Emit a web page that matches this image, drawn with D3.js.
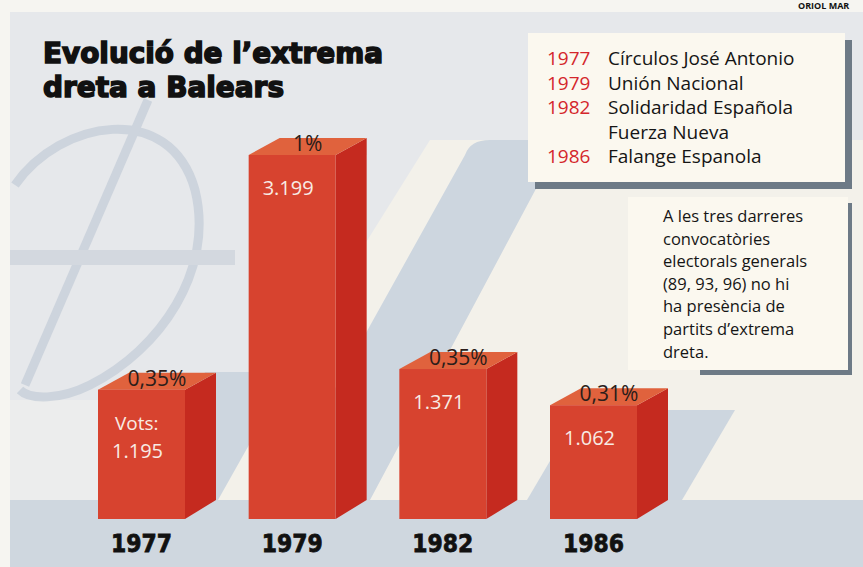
<!DOCTYPE html>
<html>
<head>
<meta charset="utf-8">
<script src="https://cdn.jsdelivr.net/npm/d3@7"></script>
<style>
  html, body { margin: 0; padding: 0; background: #f6f5f1; }
  svg { display: block; }
</style>
</head>
<body>
<svg id="chart"></svg>
<script>
const years = ['1977', '1979', '1982', '1986'];
const votes = [1195, 3199, 1371, 1062];
const shares = [0.35, 1, 0.35, 0.31];
const legendYears = ['1977', '1979', '1982', '1986'];
const parties = [
    ['Círculos José Antonio'],
    ['Unión Nacional'],
    ['Solidaridad Española', 'Fuerza Nueva'],
    ['Falange Espanola']
];
const noteLines = [
    'A les tres darreres',
    'convocatòries',
    'electorals generals',
    '(89, 93, 96) no hi',
    'ha presència de',
    'partits d’extrema',
    'dreta.'
];
const titleLines = ['Evolució de l’extrema', 'dreta a Balears'];

const W = 863, H = 567;
const baseY = 519;
const depthX = 31, depthY = 17;
const heavy = 'DejaVu Sans, sans-serif';

const svg = d3.select('#chart')
    .attr('width', W)
    .attr('height', H);

const loc = d3.formatLocale({ decimal: ',', thousands: '.', grouping: [3], currency: ['', ''] });
const fmtVotes = loc.format(',d');
const fmtShare = loc.format(',~r');

// background, paper look
const bg = svg.append('g');
bg.append('rect').attr('width', W).attr('height', H).attr('fill', '#f6f5f1');
bg.append('rect').attr('x', 10).attr('y', 12).attr('width', W - 10).attr('height', H - 12)
    .attr('fill', '#e6e8eb');
bg.append('polygon')
    .attr('points', '430,140 863,140 863,500 205,500')
    .attr('fill', '#f3f1ea');
bg.append('polygon')
    .attr('points', '10,400 98,400 98,500 10,500')
    .attr('fill', '#eceded');
// slash bands
const bandColor = '#cdd6df';
bg.append('path')
    .attr('d', 'M465,155 Q470,140 490,140 L562,140 L370,500 L273,500 Z')
    .attr('fill', bandColor);
bg.append('polygon')
    .attr('points', '205,372 290,372 218,500 140,500')
    .attr('fill', bandColor);
bg.append('polygon')
    .attr('points', '580,410 735,410 682,500 527,500')
    .attr('fill', bandColor);
bg.append('rect').attr('x', 10).attr('y', 500).attr('width', W - 10).attr('height', H - 500)
    .attr('fill', '#cfd7df');
// faint ring ornament
const orn = bg.append('g').attr('opacity', 0.55);
orn.append('path')
    .attr('d', 'M15,185 C60,120 170,100 195,190 C215,270 160,350 90,385 C60,400 30,400 20,390')
    .attr('fill', 'none').attr('stroke', '#b9c4d2').attr('stroke-width', 9);
orn.append('line')
    .attr('x1', 148).attr('y1', 100).attr('x2', 25).attr('y2', 385)
    .attr('stroke', '#b9c4d2').attr('stroke-width', 9);
bg.append('rect').attr('x', 10).attr('y', 250).attr('width', 225).attr('height', 15)
    .attr('fill', '#d3d8df');

svg.append('text')
    .attr('x', 798).attr('y', 9)
    .attr('font-family', 'Open Sans, sans-serif')
    .attr('font-weight', 700)
    .attr('font-size', 9)
    .attr('fill', '#111')
    .text('ORIOL MAR');

// title
svg.append('g').selectAll('text')
    .data(titleLines)
    .join('text')
    .attr('x', 43)
    .attr('y', (d, i) => 63 + i * 34)
    .attr('font-family', heavy)
    .attr('font-weight', 700)
    .attr('font-size', 29)
    .attr('fill', '#111')
    .attr('stroke', '#111')
    .attr('stroke-width', 1.6)
    .attr('textLength', (d, i) => i === 0 ? 340 : 241)
    .attr('lengthAdjust', 'spacingAndGlyphs')
    .text(d => d);

// scales
const x = d3.scaleBand()
    .domain(years)
    .range([98, 637])
    .paddingInner(0.4226)
    .paddingOuter(0);

const y = d3.scaleLinear()
    .domain([90, 3199])
    .range([baseY, 155]);

const data = years.map((yr, i) => ({ year: yr, votes: votes[i], share: shares[i] }));

const bars = svg.append('g').selectAll('g')
    .data(data)
    .join('g');

bars.append('polygon')
    .attr('points', d => {
        const x0 = x(d.year) + x.bandwidth(), t = y(d.votes);
        return [[x0, t], [x0 + depthX, t - depthY], [x0 + depthX, baseY - depthY - 2], [x0, baseY]].join(' ');
    })
    .attr('fill', '#c52a1f');

bars.append('polygon')
    .attr('points', d => {
        const x0 = x(d.year), x1 = x0 + x.bandwidth(), t = y(d.votes);
        return [[x0, t], [x0 + depthX, t - depthY], [x1 + depthX, t - depthY], [x1, t]].join(' ');
    })
    .attr('fill', '#e0623d');

bars.append('rect')
    .attr('x', d => x(d.year))
    .attr('y', d => y(d.votes))
    .attr('width', x.bandwidth())
    .attr('height', d => baseY - y(d.votes))
    .attr('fill', '#d7432f');

bars.append('text')
    .attr('x', d => x(d.year) + x.bandwidth() / 2 + depthX / 2)
    .attr('y', d => y(d.votes) - 4)
    .attr('text-anchor', 'middle')
    .attr('font-family', 'Open Sans, sans-serif')
    .attr('font-size', 21)
    .attr('fill', '#2a1d1a')
    .text(d => fmtShare(d.share) + '%');

bars.append('text')
    .attr('x', d => x(d.year) + 14)
    .attr('y', (d, i) => y(d.votes) + (i === 0 ? 68 : 40))
    .attr('font-family', 'Open Sans, sans-serif')
    .attr('font-size', 20)
    .attr('fill', '#f8ebe4')
    .text(d => fmtVotes(d.votes));

svg.append('text')
    .attr('x', x(years[0]) + 17)
    .attr('y', y(votes[0]) + 40)
    .attr('font-family', 'Open Sans, sans-serif')
    .attr('font-size', 19)
    .attr('fill', '#f8ebe4')
    .text('Vots:');

// year axis
svg.append('g')
    .attr('transform', 'translate(0,552)')
    .call(d3.axisBottom(x).tickSize(0).tickPadding(0))
    .call(g => g.select('.domain').remove())
    .selectAll('text')
    .attr('dy', 0)
    .attr('font-family', heavy)
    .attr('font-weight', 700)
    .attr('font-size', 25)
    .attr('fill', '#111')
    .attr('stroke', '#111')
    .attr('stroke-width', 0.8)
    .attr('textLength', 61)
    .attr('lengthAdjust', 'spacingAndGlyphs');

// legend box
const lg = svg.append('g');
lg.append('rect').attr('x', 535).attr('y', 40).attr('width', 317).attr('height', 149).attr('fill', '#6d7a86');
lg.append('rect').attr('x', 528).attr('y', 33).attr('width', 317).attr('height', 149).attr('fill', '#fbf8ef');
let row = 0;
parties.forEach((names, i) => {
    lg.append('text')
        .attr('x', 547).attr('y', 65 + row * 24.5)
        .attr('font-family', 'Open Sans, sans-serif')
        .attr('font-size', 19)
        .attr('fill', '#d4262b')
        .text(legendYears[i]);
    names.forEach(n => {
        lg.append('text')
            .attr('x', 608).attr('y', 65 + row * 24.5)
            .attr('font-family', 'Open Sans, sans-serif')
            .attr('font-size', 19)
            .attr('fill', '#151515')
            .text(n);
        row++;
    });
});

// note box
const nb = svg.append('g');
nb.append('rect').attr('x', 700).attr('y', 203).attr('width', 152).attr('height', 172).attr('fill', '#6d7a86');
nb.append('rect').attr('x', 628).attr('y', 197).attr('width', 220).attr('height', 173).attr('fill', '#fbf8ef');
nb.selectAll('text')
    .data(noteLines)
    .join('text')
    .attr('x', 663)
    .attr('y', (d, i) => 222 + i * 22.6)
    .attr('font-family', 'Open Sans, sans-serif')
    .attr('font-size', 16.5)
    .attr('fill', '#151515')
    .text(d => d);
</script>
</body>
</html>
